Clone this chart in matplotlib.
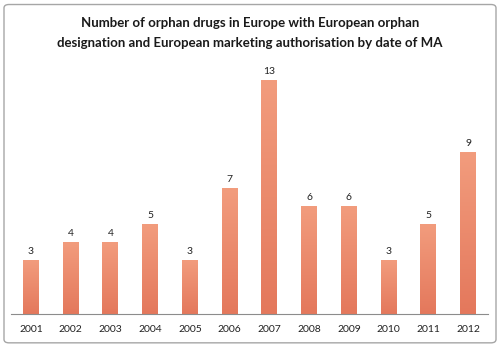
import matplotlib
matplotlib.use('Agg')
import matplotlib.pyplot as plt
import numpy as np
from matplotlib.colors import LinearSegmentedColormap
from matplotlib.patches import FancyBboxPatch

years = ['2001', '2002', '2003', '2004', '2005', '2006',
         '2007', '2008', '2009', '2010', '2011', '2012']
counts = [3, 4, 4, 5, 3, 7, 13, 6, 6, 3, 5, 9]

TITLE = ('Number of orphan drugs in Europe with European orphan\n'
         'designation and European marketing authorisation by date of MA')

plt.rcParams['font.family'] = ['Lato', 'DejaVu Sans']

fig = plt.figure(figsize=(5, 3.47), dpi=100)
fig.patches.append(FancyBboxPatch((0.008, 0.012), 0.984, 0.975,
                                  boxstyle='round,pad=0,rounding_size=0.01',
                                  transform=fig.transFigure, fill=False,
                                  edgecolor='#a6a6a6', linewidth=1.0))
fig.text(0.5, 0.905, TITLE, ha='center', va='center', fontsize=9.5,
         weight='bold', color='#1a1a1a', linespacing=1.85)

ax = fig.add_axes([0.022, 0.0951, 0.954, 0.726])
x = np.arange(len(years))
ax.set_xlim(-0.5, len(years) - 0.5)
ax.set_ylim(0, 14)

cmap = LinearSegmentedColormap.from_list('bar', ['#e4785c', '#f29c7d'])
grad = np.linspace(0, 1, 100).reshape(-1, 1)
bw = 0.4
for xi, c in zip(x, counts):
    ax.imshow(grad, extent=(xi - bw / 2, xi + bw / 2, 0, c), origin='lower',
              cmap=cmap, aspect='auto', zorder=2)
    ax.text(xi, c + 0.25, str(c), ha='center', va='bottom', fontsize=7.5,
            color='#222222')

for s in ['top', 'right', 'left']:
    ax.spines[s].set_visible(False)
ax.spines['bottom'].set_color('#8c8c8c')
ax.set_yticks([])
ax.set_xticks(x)
ax.set_xticklabels(years, fontsize=7.5, color='#222222')
ax.tick_params(axis='x', length=0, pad=8)

plt.savefig('out.png', dpi=100)
